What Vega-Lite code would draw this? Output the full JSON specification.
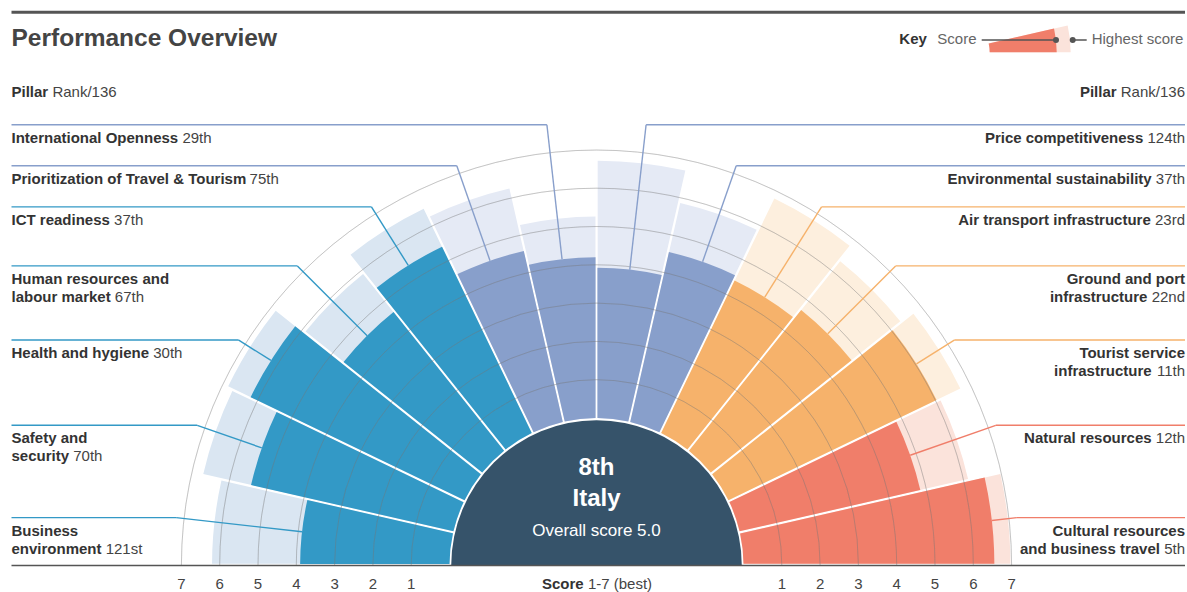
{
  "$schema": "https://vega.github.io/schema/vega-lite/v6.json",
  "width": 1187,
  "height": 592,
  "padding": 0,
  "autosize": {"type": "none"},
  "background": "#ffffff",
  "config": {
    "view": {"stroke": null},
    "legend": {"disable": true},
    "text": {"font": "Liberation Sans", "baseline": "alphabetic", "fontSize": 15}
  },
  "datasets": {
    "pillars": [
      {"idx": 0, "name1": "Business", "name2": "environment", "rank": "121st", "score": 3.9, "best": 6.2, "grp": "Enabling Environment"},
      {"idx": 1, "name1": "Safety and", "name2": "security", "rank": "70th", "score": 5.42, "best": 6.7, "grp": "Enabling Environment"},
      {"idx": 2, "name1": "Health and hygiene", "name2": "", "rank": "30th", "score": 6.2, "best": 6.85, "grp": "Enabling Environment"},
      {"idx": 3, "name1": "Human resources and", "name2": "labour market", "rank": "67th", "score": 4.63, "best": 5.9, "grp": "Enabling Environment"},
      {"idx": 4, "name1": "ICT readiness", "name2": "", "rank": "37th", "score": 5.4, "best": 6.5, "grp": "Enabling Environment"},
      {"idx": 5, "name1": "Prioritization of Travel & Tourism", "name2": "", "rank": "75th", "score": 4.58, "best": 6.25, "grp": "T&T Policy and Enabling Conditions"},
      {"idx": 6, "name1": "International Openness", "name2": "", "rank": "29th", "score": 4.2, "best": 5.26, "grp": "T&T Policy and Enabling Conditions"},
      {"idx": 7, "name1": "Price competitiveness", "name2": "", "rank": "124th", "score": 3.92, "best": 6.72, "grp": "T&T Policy and Enabling Conditions"},
      {"idx": 8, "name1": "Environmental sustainability", "name2": "", "rank": "37th", "score": 4.55, "best": 5.86, "grp": "T&T Policy and Enabling Conditions"},
      {"idx": 9, "name1": "Air transport infrastructure", "name2": "", "rank": "23rd", "score": 4.42, "best": 6.8, "grp": "Infrastructure"},
      {"idx": 10, "name1": "Ground and port", "name2": "infrastructure", "rank": "22nd", "score": 4.7, "best": 6.33, "grp": "Infrastructure"},
      {"idx": 11, "name1": "Tourist service", "name2": "infrastructure", "rank": "11th", "score": 6.03, "best": 6.72, "grp": "Infrastructure"},
      {"idx": 12, "name1": "Natural resources", "name2": "", "rank": "12th", "score": 4.84, "best": 6.12, "grp": "Natural and Cultural Resources"},
      {"idx": 13, "name1": "Cultural resources", "name2": "and business travel", "rank": "5th", "score": 6.55, "best": 6.97, "grp": "Natural and Cultural Resources"}
    ],
    "grid": [{"g": 1}, {"g": 2}, {"g": 3}, {"g": 4}, {"g": 5}, {"g": 6}, {"g": 7}],
    "ticks": [
      {"s": 1, "side": -1}, {"s": 2, "side": -1}, {"s": 3, "side": -1}, {"s": 4, "side": -1}, {"s": 5, "side": -1}, {"s": 6, "side": -1}, {"s": 7, "side": -1},
      {"s": 1, "side": 1}, {"s": 2, "side": 1}, {"s": 3, "side": 1}, {"s": 4, "side": 1}, {"s": 5, "side": 1}, {"s": 6, "side": 1}, {"s": 7, "side": 1}
    ],
    "overall": [{"country": "Italy", "rank": "8th", "score": 5.0}],
    "one": [{"n": 1}]
  },
  "layer": [
    {
      "data": {"name": "pillars"},
      "transform": [
        {"calculate": "datum.idx+1", "as": "idx1"},
        {"calculate": "datum.grp+' (highest)'", "as": "lightKey"}
      ],
      "layer": [
        {
          "mark": {"type": "arc", "padAngle": 0.0055},
          "encoding": {
            "x": {"datum": 0, "type": "quantitative", "scale": {"domain": [-596.5, 590.5], "nice": false, "zero": false}, "axis": null},
            "y": {"datum": 0, "type": "quantitative", "scale": {"domain": [-27, 565], "nice": false, "zero": false}, "axis": null},
            "theta": {"field": "idx", "type": "quantitative", "stack": null, "scale": {"domain": [0, 14], "range": [-1.5707963, 1.5707963], "zero": false, "nice": false}},
            "theta2": {"field": "idx1"},
            "radius": {"field": "best", "type": "quantitative", "stack": null, "scale": {"type": "linear", "domain": [0, 7], "range": [147, 415.1], "zero": false, "nice": false}},
            "radius2": {"datum": 0},
            "color": {"field": "lightKey", "type": "nominal", "scale": {"domain": ["Enabling Environment", "T&T Policy and Enabling Conditions", "Infrastructure", "Natural and Cultural Resources", "Enabling Environment (highest)", "T&T Policy and Enabling Conditions (highest)", "Infrastructure (highest)", "Natural and Cultural Resources (highest)"], "range": ["#3399c6", "#889fcb", "#f6b26b", "#f07e6a", "#dae6f2", "#e5eaf5", "#fdefde", "#fbe3db"]}}
          }
        },
        {
          "mark": {"type": "arc", "padAngle": 0.0055},
          "encoding": {
            "x": {"datum": 0, "type": "quantitative", "scale": {"domain": [-596.5, 590.5], "nice": false, "zero": false}, "axis": null},
            "y": {"datum": 0, "type": "quantitative", "scale": {"domain": [-27, 565], "nice": false, "zero": false}, "axis": null},
            "theta": {"field": "idx", "type": "quantitative", "stack": null, "scale": {"domain": [0, 14], "range": [-1.5707963, 1.5707963], "zero": false, "nice": false}},
            "theta2": {"field": "idx1"},
            "radius": {"field": "score", "type": "quantitative", "stack": null, "scale": {"type": "linear", "domain": [0, 7], "range": [147, 415.1], "zero": false, "nice": false}},
            "radius2": {"datum": 0},
            "color": {"field": "grp", "type": "nominal", "scale": {"domain": ["Enabling Environment", "T&T Policy and Enabling Conditions", "Infrastructure", "Natural and Cultural Resources", "Enabling Environment (highest)", "T&T Policy and Enabling Conditions (highest)", "Infrastructure (highest)", "Natural and Cultural Resources (highest)"], "range": ["#3399c6", "#889fcb", "#f6b26b", "#f07e6a", "#dae6f2", "#e5eaf5", "#fdefde", "#fbe3db"]}}
          }
        }
      ]
    },
    {
      "data": {"name": "grid"},
      "mark": {"type": "arc", "fillOpacity": 0, "stroke": "#777777", "strokeOpacity": 0.24, "strokeWidth": 1},
      "encoding": {
        "x": {"datum": 0, "type": "quantitative", "scale": {"domain": [-596.5, 590.5], "nice": false, "zero": false}, "axis": null},
        "y": {"datum": 0, "type": "quantitative", "scale": {"domain": [-27, 565], "nice": false, "zero": false}, "axis": null},
        "theta": {"datum": 0, "type": "quantitative", "scale": {"domain": [0, 14], "range": [-1.5707963, 1.5707963], "zero": false, "nice": false}},
        "theta2": {"datum": 14},
        "radius": {"field": "g", "type": "quantitative", "stack": null, "scale": {"type": "linear", "domain": [0, 7], "range": [147, 415.1], "zero": false, "nice": false}},
        "radius2": {"field": "g"}
      }
    },
    {
      "data": {"name": "overall"},
      "transform": [{"calculate": "'Overall score '+format(datum.score,'.1f')", "as": "overallText"}],
      "layer": [
        {
          "mark": {"type": "arc", "fill": "#36536a"},
          "encoding": {
            "x": {"datum": 0, "type": "quantitative", "scale": {"domain": [-596.5, 590.5], "nice": false, "zero": false}, "axis": null},
            "y": {"datum": 0, "type": "quantitative", "scale": {"domain": [-27, 565], "nice": false, "zero": false}, "axis": null},
            "theta": {"datum": 0, "type": "quantitative", "scale": {"domain": [0, 14], "range": [-1.5707963, 1.5707963], "zero": false, "nice": false}},
            "theta2": {"datum": 14},
            "radius": {"datum": -0.045, "type": "quantitative", "scale": {"type": "linear", "domain": [0, 7], "range": [147, 415.1], "zero": false, "nice": false}},
            "radius2": {"datum": -3.835}
          }
        },
        {
          "mark": {"type": "text", "align": "center", "fontSize": 24, "fontWeight": "bold", "fill": "#ffffff"},
          "encoding": {
            "x": {"datum": 0, "type": "quantitative", "scale": {"domain": [-596.5, 590.5], "nice": false, "zero": false}, "axis": null},
            "y": {"datum": 90, "type": "quantitative", "scale": {"domain": [-27, 565], "nice": false, "zero": false}, "axis": null},
            "text": {"field": "rank", "type": "nominal"}
          }
        },
        {
          "mark": {"type": "text", "align": "center", "fontSize": 24, "fontWeight": "bold", "fill": "#ffffff"},
          "encoding": {
            "x": {"datum": 0, "type": "quantitative", "scale": {"domain": [-596.5, 590.5], "nice": false, "zero": false}, "axis": null},
            "y": {"datum": 59, "type": "quantitative", "scale": {"domain": [-27, 565], "nice": false, "zero": false}, "axis": null},
            "text": {"field": "country", "type": "nominal"}
          }
        },
        {
          "mark": {"type": "text", "align": "center", "fontSize": 17, "fill": "#ffffff"},
          "encoding": {
            "x": {"datum": 0, "type": "quantitative", "scale": {"domain": [-596.5, 590.5], "nice": false, "zero": false}, "axis": null},
            "y": {"datum": 29, "type": "quantitative", "scale": {"domain": [-27, 565], "nice": false, "zero": false}, "axis": null},
            "text": {"field": "overallText", "type": "nominal"}
          }
        }
      ]
    },
    {
      "data": {"name": "pillars"},
      "transform": [
        {"calculate": "-PI/2 + PI*(datum.idx+0.5)/14", "as": "tm"},
        {"calculate": "147 + 38.3*datum.score", "as": "rs"},
        {"calculate": "datum.rs*sin(datum.tm)", "as": "x0"},
        {"calculate": "datum.rs*cos(datum.tm)", "as": "y0"},
        {"calculate": "(datum.idx==6||datum.idx==7)?443:423", "as": "re"},
        {"calculate": "datum.re*sin(datum.tm)", "as": "xe"},
        {"calculate": "datum.re*cos(datum.tm)", "as": "ye"},
        {"calculate": "datum.idx<7?-585:588.5", "as": "xedge"},
        {"calculate": "datum.name2!=''", "as": "two"},
        {"calculate": "datum.two?datum.name2:datum.name1", "as": "last"},
        {"calculate": "datum.ye-18", "as": "y1"},
        {"calculate": "datum.ye-36", "as": "y2"},
        {"calculate": "datum.two?datum.y2:datum.y1", "as": "yl"},
        {"calculate": "15*(0.556*length(datum.last)-0.278*length(replace(datum.last,regexp('[^ijlI ]','g'),''))-0.223*length(replace(datum.last,regexp('[^ft]','g'),''))-0.167*length(replace(datum.last,regexp('[^r]','g'),''))-0.056*length(replace(datum.last,regexp('[^z]','g'),''))+0.055*length(replace(datum.last,regexp('[^bdghnopquFLTZ]','g'),''))+0.111*length(replace(datum.last,regexp('[^EPSVXY]','g'),''))+0.166*length(replace(datum.last,regexp('[^ABCDHKNRU&]','g'),''))+0.222*length(replace(datum.last,regexp('[^wGOQ]','g'),''))+0.277*length(replace(datum.last,regexp('[^M]','g'),''))+0.333*length(replace(datum.last,regexp('[^m]','g'),''))+0.388*length(replace(datum.last,regexp('[^W]','g'),''))-0.111*(length(datum.last)-length(replace(datum.last,regexp('T[aceosuwy]','g'),'')))/2-0.074*(length(datum.last)-length(replace(datum.last,regexp('Tr','g'),'')))/2)", "as": "wb"},
        {"calculate": "15*(0.556*length(datum.rank)-0.056*length(replace(datum.rank,regexp('[^s]','g'),''))-0.278*length(replace(datum.rank,regexp('[^t]','g'),''))-0.223*length(replace(datum.rank,regexp('[^r]','g'),'')))", "as": "wr"},
        {"calculate": "datum.idx<7?datum.xedge+datum.wb+4.17:datum.xedge", "as": "xr"},
        {"calculate": "datum.idx<7?datum.xedge:datum.xedge-datum.wr-4.17", "as": "xl"},
        {"calculate": "(datum.idx<7||datum.two)?datum.xedge:datum.xl", "as": "x1"}
      ],
      "layer": [
        {
          "mark": {"type": "rule", "strokeWidth": 1.4},
          "encoding": {
            "x": {"field": "x0", "type": "quantitative", "scale": {"domain": [-596.5, 590.5], "nice": false, "zero": false}, "axis": null},
            "y": {"field": "y0", "type": "quantitative", "scale": {"domain": [-27, 565], "nice": false, "zero": false}, "axis": null},
            "x2": {"field": "xe"},
            "y2": {"field": "ye"},
            "color": {"field": "grp", "type": "nominal", "scale": {"domain": ["Enabling Environment", "T&T Policy and Enabling Conditions", "Infrastructure", "Natural and Cultural Resources", "Enabling Environment (highest)", "T&T Policy and Enabling Conditions (highest)", "Infrastructure (highest)", "Natural and Cultural Resources (highest)"], "range": ["#3399c6", "#889fcb", "#f6b26b", "#f07e6a", "#dae6f2", "#e5eaf5", "#fdefde", "#fbe3db"]}}
          }
        },
        {
          "mark": {"type": "rule", "strokeWidth": 1.4},
          "encoding": {
            "x": {"field": "xe", "type": "quantitative", "scale": {"domain": [-596.5, 590.5], "nice": false, "zero": false}, "axis": null},
            "y": {"field": "ye", "type": "quantitative", "scale": {"domain": [-27, 565], "nice": false, "zero": false}, "axis": null},
            "x2": {"field": "xedge"},
            "color": {"field": "grp", "type": "nominal", "scale": {"domain": ["Enabling Environment", "T&T Policy and Enabling Conditions", "Infrastructure", "Natural and Cultural Resources", "Enabling Environment (highest)", "T&T Policy and Enabling Conditions (highest)", "Infrastructure (highest)", "Natural and Cultural Resources (highest)"], "range": ["#3399c6", "#889fcb", "#f6b26b", "#f07e6a", "#dae6f2", "#e5eaf5", "#fdefde", "#fbe3db"]}}
          }
        },
        {
          "transform": [{"filter": "datum.idx<7"}],
          "mark": {"type": "text", "align": "left", "fontWeight": "bold", "fill": "#333333"},
          "encoding": {
            "x": {"field": "x1", "type": "quantitative", "scale": {"domain": [-596.5, 590.5], "nice": false, "zero": false}, "axis": null},
            "y": {"field": "y1", "type": "quantitative", "scale": {"domain": [-27, 565], "nice": false, "zero": false}, "axis": null},
            "text": {"field": "name1", "type": "nominal"}
          }
        },
        {
          "transform": [{"filter": "datum.idx>=7"}],
          "mark": {"type": "text", "align": "right", "fontWeight": "bold", "fill": "#333333"},
          "encoding": {
            "x": {"field": "x1", "type": "quantitative", "scale": {"domain": [-596.5, 590.5], "nice": false, "zero": false}, "axis": null},
            "y": {"field": "y1", "type": "quantitative", "scale": {"domain": [-27, 565], "nice": false, "zero": false}, "axis": null},
            "text": {"field": "name1", "type": "nominal"}
          }
        },
        {
          "transform": [{"filter": "datum.idx<7 && datum.two"}],
          "mark": {"type": "text", "align": "left", "fontWeight": "bold", "fill": "#333333"},
          "encoding": {
            "x": {"field": "xl", "type": "quantitative", "scale": {"domain": [-596.5, 590.5], "nice": false, "zero": false}, "axis": null},
            "y": {"field": "y2", "type": "quantitative", "scale": {"domain": [-27, 565], "nice": false, "zero": false}, "axis": null},
            "text": {"field": "name2", "type": "nominal"}
          }
        },
        {
          "transform": [{"filter": "datum.idx>=7 && datum.two"}],
          "mark": {"type": "text", "align": "right", "fontWeight": "bold", "fill": "#333333"},
          "encoding": {
            "x": {"field": "xl", "type": "quantitative", "scale": {"domain": [-596.5, 590.5], "nice": false, "zero": false}, "axis": null},
            "y": {"field": "y2", "type": "quantitative", "scale": {"domain": [-27, 565], "nice": false, "zero": false}, "axis": null},
            "text": {"field": "name2", "type": "nominal"}
          }
        },
        {
          "transform": [{"filter": "datum.idx<7"}],
          "mark": {"type": "text", "align": "left", "fill": "#444444"},
          "encoding": {
            "x": {"field": "xr", "type": "quantitative", "scale": {"domain": [-596.5, 590.5], "nice": false, "zero": false}, "axis": null},
            "y": {"field": "yl", "type": "quantitative", "scale": {"domain": [-27, 565], "nice": false, "zero": false}, "axis": null},
            "text": {"field": "rank", "type": "nominal"}
          }
        },
        {
          "transform": [{"filter": "datum.idx>=7"}],
          "mark": {"type": "text", "align": "right", "fill": "#444444"},
          "encoding": {
            "x": {"field": "xr", "type": "quantitative", "scale": {"domain": [-596.5, 590.5], "nice": false, "zero": false}, "axis": null},
            "y": {"field": "yl", "type": "quantitative", "scale": {"domain": [-27, 565], "nice": false, "zero": false}, "axis": null},
            "text": {"field": "rank", "type": "nominal"}
          }
        }
      ]
    },
    {
      "data": {"name": "one"},
      "layer": [
        {
          "mark": {"type": "rule", "stroke": "#555555", "strokeWidth": 1.6},
          "encoding": {
            "x": {"datum": -585, "type": "quantitative", "scale": {"domain": [-596.5, 590.5], "nice": false, "zero": false}, "axis": null},
            "x2": {"datum": 588.5},
            "y": {"datum": -0.5, "type": "quantitative", "scale": {"domain": [-27, 565], "nice": false, "zero": false}, "axis": null}
          }
        },
        {
          "mark": {"type": "rule", "stroke": "#555555", "strokeWidth": 3},
          "encoding": {
            "x": {"datum": -585, "type": "quantitative", "scale": {"domain": [-596.5, 590.5], "nice": false, "zero": false}, "axis": null},
            "x2": {"datum": 588.5},
            "y": {"datum": 552.7, "type": "quantitative", "scale": {"domain": [-27, 565], "nice": false, "zero": false}, "axis": null}
          }
        },
        {
          "mark": {"type": "text", "align": "left", "fontSize": 24.5, "fontWeight": "bold", "fill": "#444444", "text": "Performance Overview"},
          "encoding": {
            "x": {"datum": -585, "type": "quantitative", "scale": {"domain": [-596.5, 590.5], "nice": false, "zero": false}, "axis": null},
            "y": {"datum": 519, "type": "quantitative", "scale": {"domain": [-27, 565], "nice": false, "zero": false}, "axis": null}
          }
        },
        {
          "mark": {"type": "text", "align": "left", "fontWeight": "bold", "fill": "#333333", "text": "Pillar"},
          "encoding": {
            "x": {"datum": -585, "type": "quantitative", "scale": {"domain": [-596.5, 590.5], "nice": false, "zero": false}, "axis": null},
            "y": {"datum": 468.5, "type": "quantitative", "scale": {"domain": [-27, 565], "nice": false, "zero": false}, "axis": null}
          }
        },
        {
          "mark": {"type": "text", "align": "left", "fill": "#444444", "text": "Rank/136"},
          "encoding": {
            "x": {"datum": -544.1, "type": "quantitative", "scale": {"domain": [-596.5, 590.5], "nice": false, "zero": false}, "axis": null},
            "y": {"datum": 468.5, "type": "quantitative", "scale": {"domain": [-27, 565], "nice": false, "zero": false}, "axis": null}
          }
        },
        {
          "mark": {"type": "text", "align": "right", "fontWeight": "bold", "fill": "#333333", "text": "Pillar"},
          "encoding": {
            "x": {"datum": 520.1, "type": "quantitative", "scale": {"domain": [-596.5, 590.5], "nice": false, "zero": false}, "axis": null},
            "y": {"datum": 468.5, "type": "quantitative", "scale": {"domain": [-27, 565], "nice": false, "zero": false}, "axis": null}
          }
        },
        {
          "mark": {"type": "text", "align": "right", "fill": "#444444", "text": "Rank/136"},
          "encoding": {
            "x": {"datum": 588.5, "type": "quantitative", "scale": {"domain": [-596.5, 590.5], "nice": false, "zero": false}, "axis": null},
            "y": {"datum": 468.5, "type": "quantitative", "scale": {"domain": [-27, 565], "nice": false, "zero": false}, "axis": null}
          }
        },
        {
          "mark": {"type": "text", "align": "left", "fontWeight": "bold", "fill": "#333333", "text": "Score"},
          "encoding": {
            "x": {"datum": -54.5, "type": "quantitative", "scale": {"domain": [-596.5, 590.5], "nice": false, "zero": false}, "axis": null},
            "y": {"datum": -23.5, "type": "quantitative", "scale": {"domain": [-27, 565], "nice": false, "zero": false}, "axis": null}
          }
        },
        {
          "mark": {"type": "text", "align": "left", "fill": "#444444", "text": "1-7 (best)"},
          "encoding": {
            "x": {"datum": -8.6, "type": "quantitative", "scale": {"domain": [-596.5, 590.5], "nice": false, "zero": false}, "axis": null},
            "y": {"datum": -23.5, "type": "quantitative", "scale": {"domain": [-27, 565], "nice": false, "zero": false}, "axis": null}
          }
        },
        {
          "mark": {"type": "arc"},
          "encoding": {
            "x": {"datum": 353.2, "type": "quantitative", "scale": {"domain": [-596.5, 590.5], "nice": false, "zero": false}, "axis": null},
            "y": {"datum": 512.7, "type": "quantitative", "scale": {"domain": [-27, 565], "nice": false, "zero": false}, "axis": null},
            "theta": {"datum": 13, "type": "quantitative", "scale": {"domain": [0, 14], "range": [-1.5707963, 1.5707963], "zero": false, "nice": false}},
            "theta2": {"datum": 14},
            "radius": {"datum": -0.679, "type": "quantitative", "scale": {"type": "linear", "domain": [0, 7], "range": [147, 415.1], "zero": false, "nice": false}},
            "radius2": {"datum": -2.794},
            "color": {"datum": "Natural and Cultural Resources (highest)", "type": "nominal", "scale": {"domain": ["Enabling Environment", "T&T Policy and Enabling Conditions", "Infrastructure", "Natural and Cultural Resources", "Enabling Environment (highest)", "T&T Policy and Enabling Conditions (highest)", "Infrastructure (highest)", "Natural and Cultural Resources (highest)"], "range": ["#3399c6", "#889fcb", "#f6b26b", "#f07e6a", "#dae6f2", "#e5eaf5", "#fdefde", "#fbe3db"]}}
          }
        },
        {
          "mark": {"type": "arc"},
          "encoding": {
            "x": {"datum": 353.2, "type": "quantitative", "scale": {"domain": [-596.5, 590.5], "nice": false, "zero": false}, "axis": null},
            "y": {"datum": 512.7, "type": "quantitative", "scale": {"domain": [-27, 565], "nice": false, "zero": false}, "axis": null},
            "theta": {"datum": 13, "type": "quantitative", "scale": {"domain": [0, 14], "range": [-1.5707963, 1.5707963], "zero": false, "nice": false}},
            "theta2": {"datum": 14},
            "radius": {"datum": -1.044, "type": "quantitative", "scale": {"type": "linear", "domain": [0, 7], "range": [147, 415.1], "zero": false, "nice": false}},
            "radius2": {"datum": -2.794},
            "color": {"datum": "Natural and Cultural Resources", "type": "nominal", "scale": {"domain": ["Enabling Environment", "T&T Policy and Enabling Conditions", "Infrastructure", "Natural and Cultural Resources", "Enabling Environment (highest)", "T&T Policy and Enabling Conditions (highest)", "Infrastructure (highest)", "Natural and Cultural Resources (highest)"], "range": ["#3399c6", "#889fcb", "#f6b26b", "#f07e6a", "#dae6f2", "#e5eaf5", "#fdefde", "#fbe3db"]}}
          }
        },
        {
          "mark": {"type": "rule", "stroke": "#555555", "strokeWidth": 1.5},
          "encoding": {
            "x": {"datum": 385.2, "type": "quantitative", "scale": {"domain": [-596.5, 590.5], "nice": false, "zero": false}, "axis": null},
            "x2": {"datum": 459.5},
            "y": {"datum": 525, "type": "quantitative", "scale": {"domain": [-27, 565], "nice": false, "zero": false}, "axis": null}
          }
        },
        {
          "mark": {"type": "rule", "stroke": "#555555", "strokeWidth": 1.5},
          "encoding": {
            "x": {"datum": 476.2, "type": "quantitative", "scale": {"domain": [-596.5, 590.5], "nice": false, "zero": false}, "axis": null},
            "x2": {"datum": 490.2},
            "y": {"datum": 525, "type": "quantitative", "scale": {"domain": [-27, 565], "nice": false, "zero": false}, "axis": null}
          }
        },
        {
          "mark": {"type": "point", "filled": true, "fill": "#555555", "opacity": 1, "size": 36},
          "encoding": {
            "x": {"datum": 459.5, "type": "quantitative", "scale": {"domain": [-596.5, 590.5], "nice": false, "zero": false}, "axis": null},
            "y": {"datum": 525, "type": "quantitative", "scale": {"domain": [-27, 565], "nice": false, "zero": false}, "axis": null}
          }
        },
        {
          "mark": {"type": "point", "filled": true, "fill": "#555555", "opacity": 1, "size": 36},
          "encoding": {
            "x": {"datum": 476.2, "type": "quantitative", "scale": {"domain": [-596.5, 590.5], "nice": false, "zero": false}, "axis": null},
            "y": {"datum": 525, "type": "quantitative", "scale": {"domain": [-27, 565], "nice": false, "zero": false}, "axis": null}
          }
        },
        {
          "mark": {"type": "text", "align": "left", "fontWeight": "bold", "fill": "#333333", "text": "Key"},
          "encoding": {
            "x": {"datum": 302.8, "type": "quantitative", "scale": {"domain": [-596.5, 590.5], "nice": false, "zero": false}, "axis": null},
            "y": {"datum": 520.7, "type": "quantitative", "scale": {"domain": [-27, 565], "nice": false, "zero": false}, "axis": null}
          }
        },
        {
          "mark": {"type": "text", "align": "left", "fill": "#666666", "text": "Score"},
          "encoding": {
            "x": {"datum": 340.8, "type": "quantitative", "scale": {"domain": [-596.5, 590.5], "nice": false, "zero": false}, "axis": null},
            "y": {"datum": 520.7, "type": "quantitative", "scale": {"domain": [-27, 565], "nice": false, "zero": false}, "axis": null}
          }
        },
        {
          "mark": {"type": "text", "align": "left", "fill": "#666666", "text": "Highest score"},
          "encoding": {
            "x": {"datum": 495.2, "type": "quantitative", "scale": {"domain": [-596.5, 590.5], "nice": false, "zero": false}, "axis": null},
            "y": {"datum": 520.7, "type": "quantitative", "scale": {"domain": [-27, 565], "nice": false, "zero": false}, "axis": null}
          }
        }
      ]
    },
    {
      "data": {"name": "ticks"},
      "transform": [{"calculate": "datum.side*(147+38.3*datum.s)", "as": "tx"}],
      "mark": {"type": "text", "align": "center", "fill": "#444444"},
      "encoding": {
        "x": {"field": "tx", "type": "quantitative", "scale": {"domain": [-596.5, 590.5], "nice": false, "zero": false}, "axis": null},
        "y": {"datum": -23.5, "type": "quantitative", "scale": {"domain": [-27, 565], "nice": false, "zero": false}, "axis": null},
        "text": {"field": "s", "type": "quantitative"}
      }
    }
  ]
}
